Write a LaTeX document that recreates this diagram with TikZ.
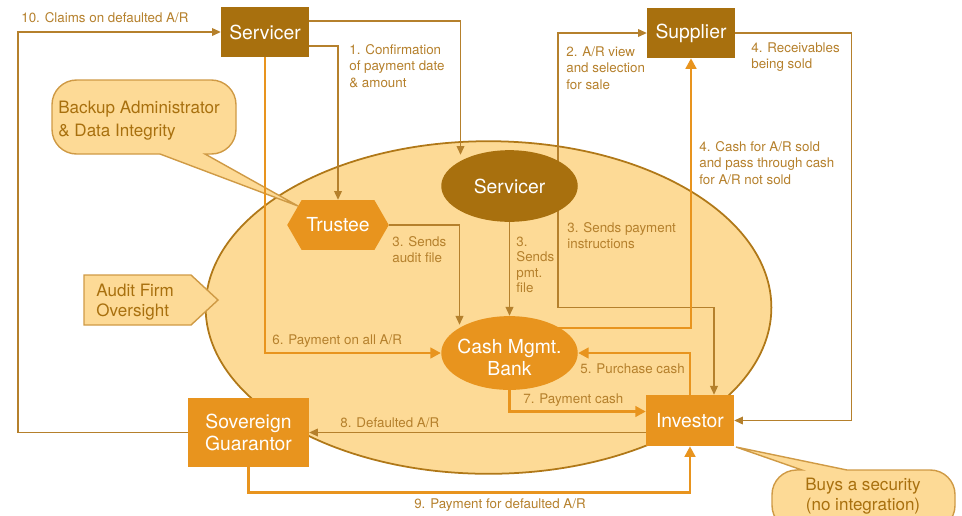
\documentclass[tikz,border=0pt]{standalone}
\usepackage{fontspec}
\setmainfont{TeX Gyre Heros}
\usetikzlibrary{positioning}
\usetikzlibrary{calc}
\usetikzlibrary{shapes.geometric}
\usetikzlibrary{shapes.symbols}
\usetikzlibrary{arrows.meta}
\definecolor{darkbrown}{HTML}{A8700E}
\definecolor{amber}{HTML}{E8941E}
\definecolor{pale}{HTML}{FDDA96}
\definecolor{rim}{HTML}{B07818}
\definecolor{ink}{HTML}{B5802C}
\definecolor{bubbleline}{HTML}{CF9A45}
\pgfdeclarelayer{back}
\pgfdeclarelayer{wires}
\pgfsetlayers{back,wires,main}
\tikzset{box/.style={rectangle, fill=darkbrown, text=white, inner sep=0pt, minimum width=49.9pt, minimum height=28.3pt, align=center, font=\fontsize{11}{12.5}\selectfont}}
\tikzset{party/.style={ellipse, text=white, inner xsep=-3pt, inner ysep=-3pt, minimum width=77.7pt, minimum height=40.8pt, align=center, font=\fontsize{11}{12.5}\selectfont}}
\tikzset{hexa/.style={signal, signal to=east and west, signal pointer angle=120, fill=amber, text=white, inner sep=0pt, minimum width=57.8pt, minimum height=28.3pt, font=\fontsize{11}{12.5}\selectfont}}
\tikzset{wire/.style={draw=ink, line width=0.75pt, >={Triangle[length=5pt,width=4.4pt]}}}
\tikzset{cash/.style={draw=amber, line width=1.5pt, >={Triangle[length=6pt,width=6pt]}}}
\tikzset{lbl/.style={text=ink, inner sep=0pt, align=left, font=\fontsize{7.6}{9.4}\selectfont}}
\tikzset{note/.style={text=darkbrown, inner sep=0pt, align=left, font=\fontsize{9.7}{11}\selectfont}}
\tikzset{bubble/.style={draw=bubbleline, fill=pale, line width=0.8pt}}

\begin{document}
\begin{tikzpicture}[x=0.02cm,y=-0.02cm]
\useasboundingbox (0,0) rectangle (962,515);

% parties
\node[box] (srvtop) at (265,32) {Servicer};
\node[box] (supp) at (691,33) {Supplier};
\node[party, fill=darkbrown] (srv) at (509.5,186) {Servicer};
\node[hexa] (trustee) at (338,225) {Trustee};
\node[party, fill=amber, minimum height=42pt] (cmb) at (509.5,353) {\rule{0pt}{13.5pt}Cash Mgmt.\\Bank};
\node[box, fill=amber, minimum width=68.6pt, minimum height=39.1pt] (sov) at (248.5,432.5) {Sovereign\\Guarantor};
\node[box, fill=amber, minimum height=28.9pt] (inv) at (690,420.5) {Investor};

% call-outs
\node[note, anchor=west] (backup) at (58,121) {Backup Administrator\\[2pt]\& Data Integrity};
\node[note, anchor=west] (audit) at (96,302) {Audit Firm\\Oversight};
\node[note, align=center] (buys) at (863,496) {Buys a security\\(no integration)};

\begin{pgfonlayer}{back}
\node[ellipse, draw=rim, fill=pale, line width=1pt, minimum width=322pt, minimum height=189.3pt] (zone) at (488.5,307.5) {};
\draw[bubble] (298,206) -- (160,154) [rounded corners=14] -- (52,154) -- (52,80) -- (236,80) -- (236,154) [sharp corners] -- (205,154) -- cycle;
\draw[bubble] (84,275) -- (191,275) -- (218,300) -- (191,325) -- (84,325) -- cycle;
\draw[bubble] (736,447) -- (847,470) [rounded corners=14] -- (955,470) -- (955,530) -- (772,530) -- (772,470) [sharp corners] -- (802,470) -- cycle;
\end{pgfonlayer}

\begin{pgfonlayer}{wires}
\draw[wire,->] (sov.west) -- ++(-170,0) |- (srvtop.west);
\draw[wire,->] ($(srvtop.east)+(0,-11)$) -| ($(srv.north)+(-49,5)$);
\draw[wire,->] ($(srvtop.east)+(0,14)$) -| (trustee.north);
\draw[cash,->] (srvtop.south) |- (cmb.west);
\draw[wire,->] (trustee.east) -| ($(cmb.north)+(-50,9)$);
\draw[wire,->] (srv.south) -- (cmb.north);
\draw[wire,->] ($(srv.east)+(-20,0)$) |- (supp.west);
\draw[wire,->] ($(srv.east)+(-20,0)$) |- ($(inv.north)+(24,-87)$) -- ($(inv.north)+(24,0)$);
\draw[cash,->] ($(cmb.center)+(0,-25)$) -| (supp.south);
\draw[cash,->] (inv.north) |- (cmb.east);
\draw[cash,->] (cmb.south) |- ($(inv.west)+(0,-9)$);
\draw[wire,->] ($(inv.west)+(0,12)$) -- (sov.east);
\draw[cash,->] (sov.south) -- ++(0,25) -| (inv.south);
\draw[wire,->] (supp.east) -- ++(116,0) |- (inv.east);
\end{pgfonlayer}

% flow labels
\node[lbl, anchor=west] (l10) at (21,18) {10. Claims on defaulted A/R};
\node[lbl, anchor=north west] (l1) at (349,44) {1. Confirmation\\of payment date\\\& amount};
\node[lbl, anchor=north west] (l2) at (566,46) {2. A/R view\\and selection\\for sale};
\node[lbl, anchor=north west] (l4r) at (751,42) {4. Receivables\\being sold};
\node[lbl, anchor=north west] (l4c) at (699,141) {4. Cash for A/R sold\\and pass through cash\\for A/R not sold};
\node[lbl, anchor=north west] (l3i) at (567,222) {3. Sends payment\\instructions};
\node[lbl, anchor=north west] (l3a) at (392,236) {3. Sends\\audit file};
\node[lbl, anchor=north west, font=\fontsize{7.6}{8.6}\selectfont] (l3p) at (516,237) {3.\\Sends\\pmt.\\file};
\node[lbl, anchor=west] (l6) at (272,341) {6. Payment on all A/R};
\node[lbl, anchor=west] (l5) at (580,369) {5. Purchase cash};
\node[lbl, anchor=west] (l7) at (523,400) {7. Payment cash};
\node[lbl, anchor=west] (l8) at (340,423) {8. Defaulted A/R};
\node[lbl] (l9) at (500,505) {9. Payment for defaulted A/R};
\end{tikzpicture}
\end{document}
